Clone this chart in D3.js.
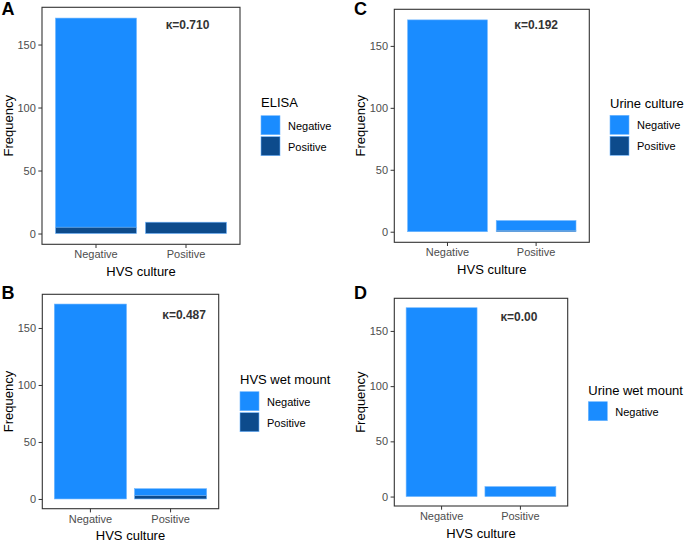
<!DOCTYPE html>
<html><head><meta charset="utf-8">
<script src="https://cdn.jsdelivr.net/npm/d3@7"></script>
<style>
body{margin:0;background:#fff;}
svg text{font-family:"Liberation Sans",Arial,sans-serif;}
</style></head>
<body><svg id="chart" width="685" height="542"></svg>
<script>
// ---- data ----
const categories = ["Negative", "Positive"];          // HVS culture
const tickValues = [0, 50, 100, 150];
const panelIds = ["A", "B", "C", "D"];
const legendTitles = ["ELISA", "HVS wet mount", "Urine culture", "Urine wet mount"];
const kappaLabels = ["\u03BA=0.710", "\u03BA=0.487", "\u03BA=0.192", "\u03BA=0.00"];
// counts of the test result "Negative" / "Positive" in each HVS culture category
const negA = [166, 0], posA = [5, 9];
const negB = [171, 6], posB = [0, 3];
const negC = [171, 8], posC = [0, 1];
const negD = [171, 9], posD = null;
const seriesNeg = [negA, negB, negC, negD];
const seriesPos = [posA, posB, posC, posD];

// ---- layout ----
const boxes = [
  {l:42, t:7.3, r:240, b:244.3, leg:{x:261, ty:102, ky:115.7}, kap:{dx:1.5, y:166}},
  {l:42.3, t:294.3, r:218.7, b:508.7, leg:{x:240, ty:379, ky:391.7}, kap:{dx:13.5, y:162}},
  {l:394.3, t:9.3, r:589.3, b:242.3, leg:{x:610, ty:103.3, ky:115.3}, kap:{dx:0, y:167}},
  {l:394.3, t:298.3, r:567.7, b:506, leg:{x:588.3, ty:390, ky:401.7}, kap:{dx:-1.5, y:163}}
];
const colNeg = "#1a8cff", colPos = "#0d4b8c", colStroke = "#6fb6ff";

const svg = d3.select("#chart");

boxes.forEach((bx, i) => {
  const g = svg.append("g");
  const x = d3.scaleBand().domain(categories).range([bx.l, bx.r]).paddingInner(0.1).paddingOuter(0.15);
  const maxV = d3.max(categories.map((c, j) => seriesNeg[i][j] + (seriesPos[i] ? seriesPos[i][j] : 0)));
  const ext = maxV * 0.05;
  const y = d3.scaleLinear().domain([-ext, maxV + ext]).range([bx.b, bx.t]);

  // bars: positive at bottom, negative stacked on top
  categories.forEach((c, j) => {
    const p = seriesPos[i] ? seriesPos[i][j] : 0;
    const n = seriesNeg[i][j];
    if (n > 0) g.append("rect").attr("x", x(c)).attr("width", x.bandwidth())
      .attr("y", y(p + n)).attr("height", y(p) - y(p + n))
      .attr("fill", colNeg).attr("stroke", colStroke).attr("stroke-width", 0.6);
    if (p > 0) g.append("rect").attr("x", x(c)).attr("width", x.bandwidth())
      .attr("y", y(p)).attr("height", y(0) - y(p))
      .attr("fill", colPos).attr("stroke", colStroke).attr("stroke-width", 0.6);
  });

  // border
  g.append("rect").attr("x", bx.l).attr("y", bx.t).attr("width", bx.r - bx.l).attr("height", bx.b - bx.t)
    .attr("fill", "none").attr("stroke", "#333").attr("stroke-width", 1.1);

  // y axis
  const ya = g.append("g").attr("transform", `translate(${bx.l},0)`)
    .call(d3.axisLeft(y).tickValues(tickValues).tickSize(3.7).tickPadding(2.5));
  ya.select(".domain").remove();
  ya.selectAll("line").attr("stroke", "#333");
  ya.selectAll("text").attr("fill", "#4d4d4d").style("font-size", "11px");

  // x axis
  const xa = g.append("g").attr("transform", `translate(0,${bx.b})`)
    .call(d3.axisBottom(x).tickSize(3.7).tickPadding(2.5));
  xa.select(".domain").remove();
  xa.selectAll("line").attr("stroke", "#333");
  xa.selectAll("text").attr("fill", "#4d4d4d").style("font-size", "11px");

  // axis titles
  g.append("text").attr("x", (bx.l + bx.r) / 2).attr("y", bx.b + 27).attr("dy", "0.35em")
    .attr("text-anchor", "middle").style("font-size", "13px").attr("fill", "#000").text("HVS culture");
  g.append("text").attr("transform", `translate(${bx.l - 34},${(bx.t + bx.b) / 2}) rotate(-90)`)
    .attr("dy", "0.35em").attr("text-anchor", "middle").style("font-size", "13px").attr("fill", "#000").text("Frequency");

  // kappa annotation
  g.append("text").attr("x", x("Positive") + x.bandwidth() / 2 + bx.kap.dx).attr("y", y(bx.kap.y)).attr("dy", "0.35em")
    .attr("text-anchor", "middle").style("font-size", "12px").style("font-weight", "bold").attr("fill", "#333")
    .text(kappaLabels[i]);

  // panel letter
  g.append("text").attr("x", bx.l < 100 ? 1.5 : 354).attr("y", bx.t < 100 ? 8.3 : 293).attr("dy", "0.35em")
    .style("font-size", "18px").style("font-weight", "bold").attr("fill", "#000").text(panelIds[i]);

  // legend
  const L = bx.leg;
  g.append("text").attr("x", L.x).attr("y", L.ty).attr("dy", "0.35em").style("font-size", "13px")
    .attr("fill", "#000").text(legendTitles[i]);
  const levels = seriesPos[i] ? ["Negative", "Positive"] : ["Negative"];
  levels.forEach((lv, k) => {
    const ky = L.ky + k * 21;
    g.append("rect").attr("x", L.x).attr("y", ky).attr("width", 19).attr("height", 19)
      .attr("fill", lv === "Negative" ? colNeg : colPos).attr("stroke", colStroke).attr("stroke-width", 0.6);
    g.append("text").attr("x", L.x + 27).attr("y", ky + 10).attr("dy", "0.35em").style("font-size", "11px")
      .attr("fill", "#000").text(lv);
  });
});
</script></body></html>
